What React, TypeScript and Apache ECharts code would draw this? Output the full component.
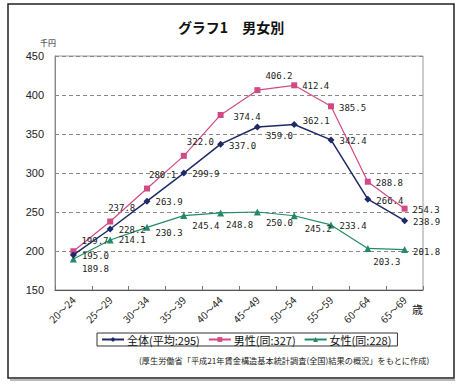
import React, { useEffect, useRef } from "react";
import * as echarts from "echarts";

const categories = ["20〜24", "25〜29", "30〜34", "35〜39", "40〜44", "45〜49", "50〜54", "55〜59", "60〜64", "65〜69"];
const totalValues = [195.0, 228.2, 263.9, 299.9, 337.0, 359.0, 362.1, 342.4, 266.4, 238.9];
const maleValues = [199.7, 237.8, 280.1, 322.0, 374.4, 406.2, 412.4, 385.5, 288.8, 254.3];
const femaleValues = [189.8, 214.1, 230.3, 245.4, 248.8, 250.0, 245.2, 233.4, 203.3, 201.8];
const seriesNames = ["全体(平均:295)", "男性(同:327)", "女性(同:228)"];
const yTicks = { min: 150, max: 450, interval: 50 };

// label offsets [dx, dy] relative to the 'right' position
const totalLabelOffsets = [[0, 1], [0, 1], [0, 1], [0, 1], [0, 2], [0, 9], [0, -4], [0, 1], [0, 2], [0, 1]];
const maleLabelOffsets = [[0, -10], [-10, -14], [-6, -14], [-5, -14], [5, 2], [0, -14], [0, 1], [0, 2], [0, 1], [0, 1]];
const femaleLabelOffsets = [[0, 10], [0, 0], [0, 6], [0, 10], [-3, 12], [0, 11], [2, 13], [0, 1], [-3, 14], [0, 2]];

const numFont = "'DejaVu Sans Mono', monospace";
const jpFont = "'Noto Sans CJK JP', 'Noto Sans', sans-serif";

function buildData(values: number[], offsets: number[][]) {
  return values.map((v, i) => ({
    value: v,
    label: { position: "right", offset: offsets[i] },
  }));
}

export default function App() {
  const ref = useRef<HTMLDivElement>(null);
  useEffect(() => {
    document.body.style.margin = "0";
    const chart = echarts.init(ref.current!, null, { renderer: "svg" });
    const labelCommon = {
      show: true,
      fontFamily: numFont,
      fontSize: 9,
      color: "#222",
      distance: 5,
      formatter: (p: any) => Number(p.value).toFixed(1),
    };
    chart.setOption({
      animation: false,
      backgroundColor: "#fff",
      title: {
        text: "グラフ1　男女別",
        left: "center",
        top: 15,
        textStyle: { fontFamily: jpFont, fontSize: 14, fontWeight: "bold", color: "#111" },
      },
      graphic: [
        {
          type: "rect",
          shape: { x: 8, y: 4, width: 446, height: 374 },
          style: { fill: "none", stroke: "#222", lineWidth: 1.5 },
          silent: true,
        },
        {
          type: "line",
          shape: { x1: 10, y1: 380, x2: 455, y2: 380 },
          style: { stroke: "#bbb", lineWidth: 2 },
          silent: true,
        },
        {
          type: "text",
          x: 40,
          y: 38,
          style: { text: "千円", fontFamily: jpFont, fontSize: 8, fill: "#222" },
        },
        {
          type: "text",
          x: 412,
          y: 303,
          style: { text: "歳", fontFamily: jpFont, fontSize: 11, fill: "#222" },
        },
        {
          type: "text",
          x: 139,
          y: 356,
          style: {
            text: "(厚生労働省「平成21年賃金構造基本統計調査(全国)結果の概況」をもとに作成)",
            fontFamily: jpFont,
            fontSize: 8.2,
            fill: "#222",
          },
        },
      ],
      legend: {
        left: 97,
        top: 333,
        orient: "horizontal",
        itemWidth: 22,
        itemHeight: 6,
        itemGap: 8,
        borderColor: "#333",
        borderWidth: 1,
        borderRadius: 0,
        padding: [1, 6, 1, 4],
        textStyle: { fontFamily: jpFont, fontSize: 11, color: "#111", padding: [0, 0, 0, -2] },
        data: seriesNames,
      },
      grid: {
        left: 55,
        right: 39,
        top: 56,
        bottom: 98,
        show: true,
        borderColor: "#999",
        borderWidth: 1,
        containLabel: false,
      },
      xAxis: {
        type: "category",
        data: categories,
        boundaryGap: true,
        axisLine: { lineStyle: { color: "#555", width: 1 } },
        axisTick: { show: true, inside: true, length: 4, lineStyle: { color: "#777" } },
        axisLabel: {
          rotate: 45,
          margin: 8,
          fontFamily: jpFont,
          fontSize: 10,
          color: "#222",
        },
      },
      yAxis: {
        type: "value",
        min: yTicks.min,
        max: yTicks.max,
        interval: yTicks.interval,
        axisLine: { show: true, lineStyle: { color: "#888" } },
        axisTick: { show: false },
        axisLabel: { margin: 11, fontFamily: "'Liberation Sans', Arial, sans-serif", fontSize: 11, color: "#222" },
        splitLine: { show: true, lineStyle: { color: "#888", type: [4, 3], width: 1 } },
      },
      series: [
        {
          name: seriesNames[0],
          type: "line",
          data: buildData(totalValues, totalLabelOffsets),
          symbol: "diamond",
          symbolSize: 7,
          color: "#1e2a66",
          lineStyle: { width: 1.5, color: "#1e2a66" },
          itemStyle: { color: "#1e2a66" },
          label: labelCommon,
          z: 3,
        },
        {
          name: seriesNames[1],
          type: "line",
          data: buildData(maleValues, maleLabelOffsets),
          symbol: "rect",
          symbolSize: 6,
          color: "#d04a86",
          lineStyle: { width: 1.2, color: "#d04a86" },
          itemStyle: { color: "#d04a86" },
          label: labelCommon,
          z: 2,
        },
        {
          name: seriesNames[2],
          type: "line",
          data: buildData(femaleValues, femaleLabelOffsets),
          symbol: "triangle",
          symbolSize: 7,
          color: "#248a66",
          lineStyle: { width: 1.2, color: "#248a66" },
          itemStyle: { color: "#248a66" },
          label: labelCommon,
          z: 2,
        },
      ],
    });
    return () => chart.dispose();
  }, []);
  return <div ref={ref} style={{ width: 462, height: 388 }} />;
}
